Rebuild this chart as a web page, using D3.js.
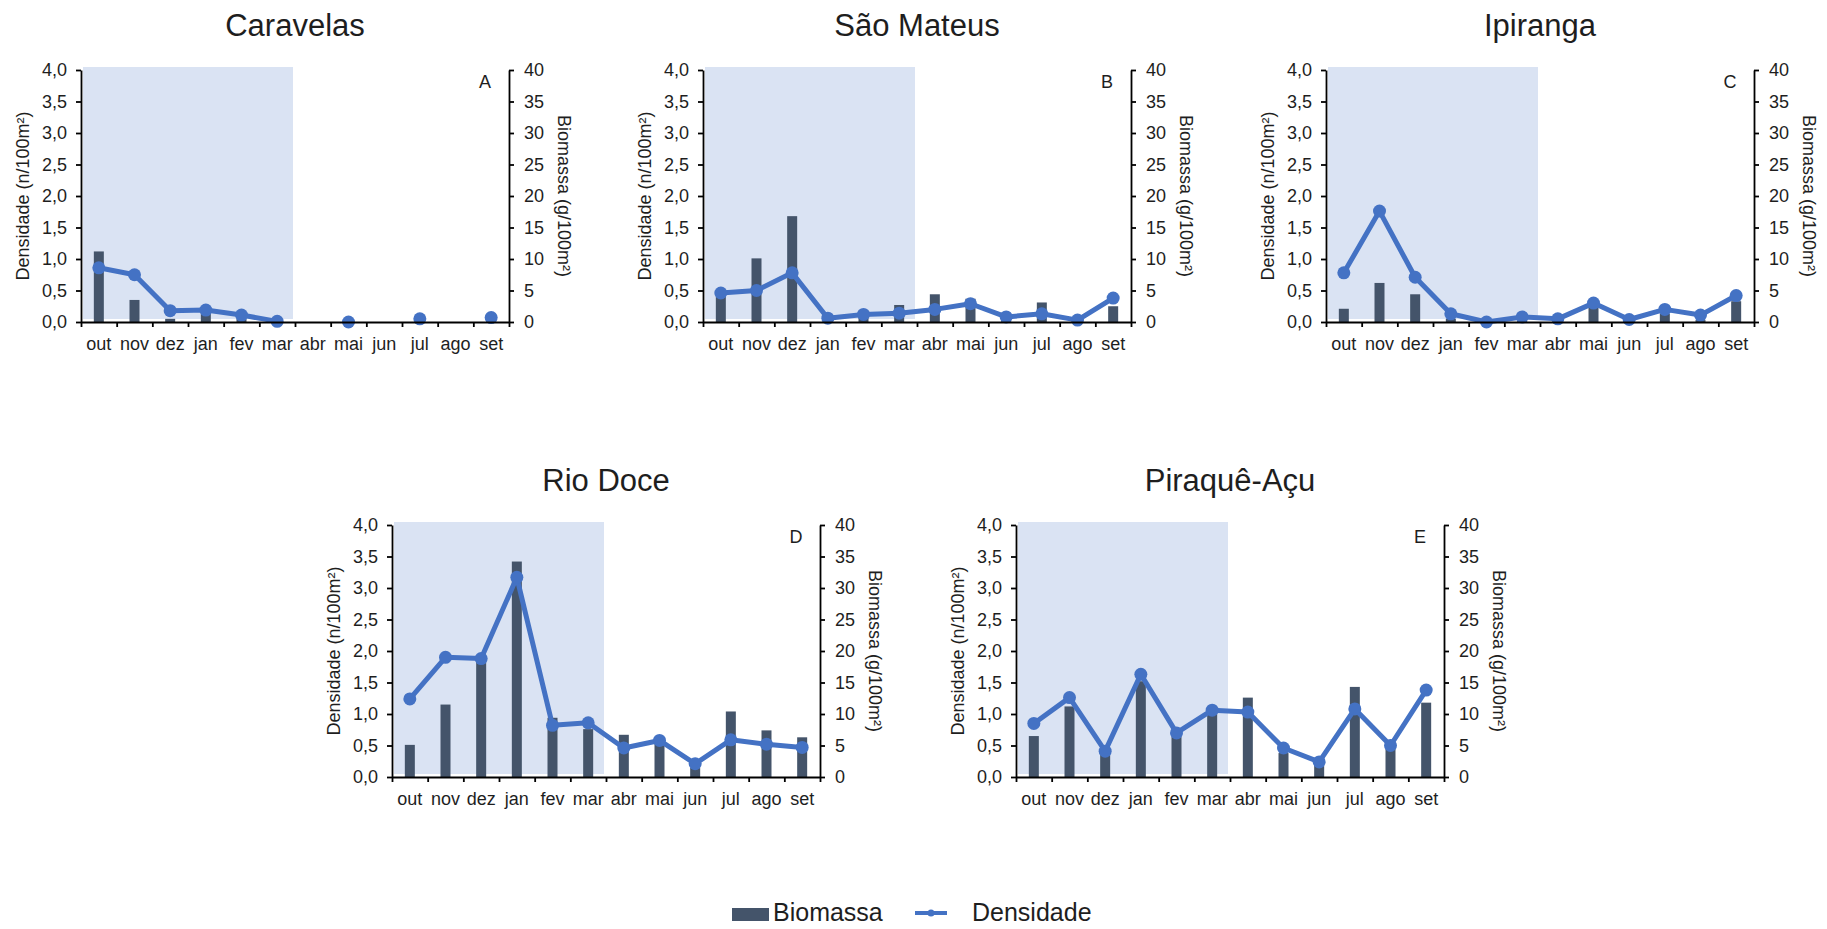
<!DOCTYPE html>
<html><head><meta charset="utf-8">
<script src="https://cdn.jsdelivr.net/npm/d3@7"></script>
<style>
body{margin:0;background:#fff}
svg text{font-family:"Liberation Sans",Arial,sans-serif;fill:#1e1e1e}
</style>
</head><body>
<svg id="chart" width="1827" height="929"></svg>
<script>
// ---- data ----
const months = ["out","nov","dez","jan","fev","mar","abr","mai","jun","jul","ago","set"];
const shadedMonths = ["out","nov","dez","jan","fev","mar"];
const siteNames = ["Caravelas","São Mateus","Ipiranga","Rio Doce","Piraquê-Açu"];
const panelLetters = ["A","B","C","D","E"];
const densityTicks = [0,0.5,1,1.5,2,2.5,3,3.5,4];
const biomassTicks = [0,5,10,15,20,25,30,35,40];

const biomassCaravelas = [11.2,3.5,0.5,1.5,0.6,0.1,null,0,null,0.2,null,0.3];
const densityCaravelas = [0.86,0.75,0.18,0.19,0.11,0.01,null,0.0,null,0.05,null,0.07];
const biomassSaoMateus = [4.3,10.1,16.8,0.2,1.8,2.7,4.4,3.7,0.4,3.1,0.1,2.5];
const densitySaoMateus = [0.46,0.50,0.78,0.06,0.12,0.14,0.20,0.29,0.08,0.13,0.03,0.38];
const biomassIpiranga = [2.1,6.2,4.4,0.5,0,0.2,0.2,2.5,0,1.3,0.3,3.3];
const densityIpiranga = [0.78,1.76,0.71,0.13,0.0,0.08,0.05,0.30,0.04,0.20,0.11,0.42];
const biomassRioDoce = [5.1,11.5,18.5,34.2,9.4,7.6,6.7,5.5,1.5,10.4,7.4,6.3];
const densityRioDoce = [1.24,1.90,1.88,3.17,0.82,0.86,0.46,0.58,0.21,0.59,0.52,0.47];
const biomassPiraque = [6.5,11.2,3.5,15.2,6.5,10.0,12.6,3.8,2.0,14.3,4.5,11.8];
const densityPiraque = [0.85,1.26,0.41,1.63,0.70,1.06,1.03,0.46,0.24,1.08,0.50,1.38];

const biomassSeries = [biomassCaravelas,biomassSaoMateus,biomassIpiranga,biomassRioDoce,biomassPiraque];
const densitySeries = [densityCaravelas,densitySaoMateus,densityIpiranga,densityRioDoce,densityPiraque];

// ---- layout ----
const layout = [{x:81,y:70},{x:703,y:70},{x:1326,y:70},{x:392,y:525},{x:1016,y:525}];
const W = 428, H = 252;
const barColor = "#44546a", lineColor = "#4472c4", shadeColor = "#dae3f3";

const svg = d3.select("#chart");
const fmt = d => d3.format(".1f")(d).replace(".", ",");

siteNames.forEach((name, i) => {
  const g = svg.append("g").attr("transform", `translate(${layout[i].x},${layout[i].y})`);
  const x = d3.scaleBand().domain(months).range([0, W]);
  const xi = d3.scaleLinear().domain([0, months.length]).range([0, W]);
  const yL = d3.scaleLinear().domain([0, 4]).range([H, 0]);
  const yR = d3.scaleLinear().domain([0, 40]).range([H, 0]);
  const cx = m => x(m) + x.bandwidth() / 2;

  // shaded season
  const s0 = x(shadedMonths[0]), s1 = x(shadedMonths[shadedMonths.length - 1]) + x.bandwidth();
  g.append("rect").attr("x", s0 + 2).attr("y", yL(4) - 3)
    .attr("width", s1 - s0 - 4).attr("height", H - 3 - (yL(4) - 3))
    .attr("fill", shadeColor);

  const bio = months.map((m, j) => ({m, v: biomassSeries[i][j]}));
  const den = months.map((m, j) => ({m, v: densitySeries[i][j]}));

  // bars
  const bw = 10;
  g.selectAll(".bar").data(bio.filter(d => d.v != null)).enter().append("rect")
    .attr("x", d => cx(d.m) - bw / 2).attr("y", d => yR(d.v))
    .attr("width", bw).attr("height", d => H - yR(d.v)).attr("fill", barColor);

  // line
  const line = d3.line().defined(d => d.v != null).x(d => cx(d.m)).y(d => yL(d.v));
  g.append("path").datum(den).attr("d", line).attr("fill", "none")
    .attr("stroke", lineColor).attr("stroke-width", 5).attr("stroke-linejoin", "round");
  g.selectAll(".pt").data(den.filter(d => d.v != null)).enter().append("circle")
    .attr("cx", d => cx(d.m)).attr("cy", d => yL(d.v)).attr("r", 6.5).attr("fill", lineColor);

  // axes
  const styleAxis = a => {
    a.selectAll("path,line").attr("stroke", "#000").attr("stroke-width", 1.8);
    a.selectAll("text").attr("font-size", 18).attr("fill", "#1e1e1e")
      .attr("font-family", '"Liberation Sans",Arial,sans-serif');
  };
  g.append("g").call(d3.axisLeft(yL).tickValues(densityTicks).tickFormat(fmt)
    .tickSize(5).tickSizeOuter(0).tickPadding(9)).call(styleAxis);
  g.append("g").attr("transform", `translate(${W},0)`)
    .call(d3.axisRight(yR).tickValues(biomassTicks).tickFormat(d3.format("d"))
    .tickSize(5).tickSizeOuter(0).tickPadding(10)).call(styleAxis);
  g.append("g").attr("transform", `translate(0,${H})`)
    .call(d3.axisBottom(xi).tickValues(d3.range(months.length + 1)).tickFormat("")
    .tickSize(5).tickSizeOuter(0)).call(styleAxis);
  g.append("g").attr("transform", `translate(0,${H})`)
    .call(d3.axisBottom(x).tickSize(0).tickPadding(15)).call(styleAxis)
    .call(a => a.select(".domain").remove());

  // axis titles
  g.append("text").attr("transform", `translate(-58,${H / 2}) rotate(-90)`)
    .attr("text-anchor", "middle").attr("dominant-baseline", "central")
    .attr("font-size", 18).text("Densidade (n/100m²)");
  g.append("text").attr("transform", `translate(${W + 55},${H / 2}) rotate(90)`)
    .attr("text-anchor", "middle").attr("dominant-baseline", "central")
    .attr("font-size", 18).text("Biomassa (g/100m²)");

  // panel letter & title
  g.append("text").attr("x", W - 24).attr("y", 12).attr("text-anchor", "middle")
    .attr("dominant-baseline", "central").attr("font-size", 18).text(panelLetters[i]);
  g.append("text").attr("x", W / 2).attr("y", -45).attr("text-anchor", "middle")
    .attr("dominant-baseline", "central").attr("font-size", 31).text(name);
});

// legend
const lg = svg.append("g");
lg.append("rect").attr("x", 732).attr("y", 908).attr("width", 37).attr("height", 13).attr("fill", barColor);
lg.append("text").attr("x", 773).attr("y", 921).attr("font-size", 25).text("Biomassa");
lg.append("line").attr("x1", 915).attr("x2", 947).attr("y1", 913).attr("y2", 913)
  .attr("stroke", lineColor).attr("stroke-width", 4);
lg.append("circle").attr("cx", 931).attr("cy", 913).attr("r", 3.5).attr("fill", lineColor);
lg.append("text").attr("x", 972).attr("y", 921).attr("font-size", 25).text("Densidade");
</script>
</body></html>
